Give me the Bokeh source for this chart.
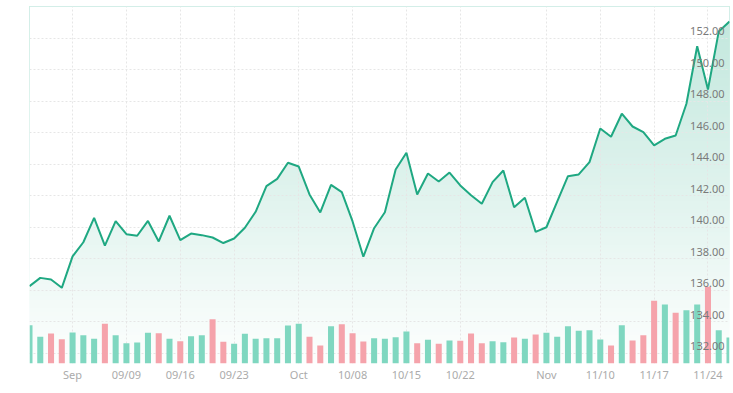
import numpy as np
from bokeh.plotting import figure
from bokeh.models import Range1d, FixedTicker
from bokeh.core.properties import value
from bokeh.embed import file_html
from bokeh.resources import INLINE

# ---- data ----
close = [136.26, 136.79, 136.69, 136.16, 138.15, 139.05, 140.60, 138.84, 140.39, 139.56,
         139.46, 140.40, 139.10, 140.73, 139.18, 139.60, 139.50, 139.35, 139.00, 139.29,
         139.97, 140.98, 142.61, 143.07, 144.09, 143.85, 142.08, 140.94, 142.69, 142.23,
         140.37, 138.13, 139.94, 140.95, 143.66, 144.72, 142.08, 143.41, 142.90, 143.47,
         142.65, 142.03, 141.49, 142.86, 143.60, 141.27, 141.87, 139.71, 140.00, 141.63,
         143.24, 143.35, 144.13, 146.26, 145.74, 147.20, 146.39, 146.03, 145.19, 145.61,
         145.82, 147.83, 151.48, 148.74, 152.41, 153.05]
volume = [47.9, 33.4, 37.5, 30.4, 38.8, 35.4, 30.9, 49.6, 35.4, 25.4,
          26.3, 38.4, 37.9, 30.9, 27.9, 34.1, 35.4, 55.4, 27.1, 24.6,
          37.1, 30.9, 31.6, 31.6, 47.5, 49.6, 33.4, 22.5, 46.6, 49.1,
          37.9, 27.5, 31.6, 30.9, 32.9, 40.0, 25.4, 29.6, 24.6, 28.8,
          28.4, 37.5, 25.4, 27.9, 26.6, 32.5, 30.9, 36.3, 38.4, 33.4,
          46.6, 40.9, 41.6, 30.0, 22.5, 47.9, 28.8, 35.4, 78.4, 73.8,
          63.4, 66.6, 73.8, 95.9, 41.6, 32.5]
up = [1, 1, 0, 0, 1, 1, 1, 0, 1, 1,
      1, 1, 0, 1, 0, 1, 1, 0, 0, 1,
      1, 1, 1, 1, 1, 1, 0, 0, 1, 0,
      0, 0, 1, 1, 1, 1, 0, 1, 0, 1,
      0, 0, 0, 1, 1, 0, 1, 0, 1, 1,
      1, 1, 1, 1, 0, 1, 0, 0, 0, 1,
      0, 1, 1, 0, 1, 1]
tick_index = [4, 9, 14, 19, 25, 30, 35, 40, 48, 53, 58, 63]
tick_labels = ["Sep", "09/09", "09/16", "09/23", "Oct", "10/08", "10/15",
               "10/22", "Nov", "11/10", "11/17", "11/24"]
price_grid = [132, 134, 136, 138, 140, 142, 144, 146, 148, 150, 152, 154]
price_labels = [132, 134, 136, 138, 140, 142, 144, 146, 148, 150, 152]
price_lo, price_hi = 131.36, 154.0
vol_hi = 446.0

LINE = "#1fa882"
UPC = "#7fd7c0"
DNC = "#f5a3ab"

n = len(close)
x = np.arange(n)

p = figure(width=733, height=393, output_backend="svg", toolbar_location=None,
           x_range=Range1d(0, n - 1), y_range=Range1d(price_lo, price_hi),
           y_axis_location=None,
           min_border_left=29, min_border_right=4, min_border_top=6, min_border_bottom=30)
p.outline_line_color = None
p.background_fill_color = "white"
p.border_fill_color = "white"
p.extra_y_ranges = {"vol": Range1d(0, vol_hi)}

# gradient area under the line: stacked bands, then a white mask above the line
nb = 90
levels = np.linspace(price_lo, price_hi, nb + 1)[:-1]
top_area = max(close)
t = np.clip((levels - price_lo) / (top_area - price_lo), 0, 1)
alpha = 0.01 + 0.26 * t
base = np.array([31, 168, 130])
cols = []
for a in alpha:
    c = 255 - a * (255 - base)
    cols.append("#%02x%02x%02x" % tuple(int(round(v)) for v in c))
p.quad(left=0, right=n - 1, bottom=levels, top=price_hi, fill_color=cols,
       line_color=None, level="image")
p.varea(x=x, y1=close, y2=price_hi, fill_color="white", level="image")

# grids
p.xgrid.ticker = FixedTicker(ticks=tick_index)
p.ygrid.ticker = FixedTicker(ticks=price_grid)
for g in (p.xgrid, p.ygrid):
    g.grid_line_color = "#e6e6e6"
    g.grid_line_dash = "2 2"
    g.grid_line_width = 1

# volume bars
bar_cols = [UPC if u else DNC for u in up]
p.vbar(x=x, top=volume, bottom=0, width=0.56, fill_color=bar_cols,
       line_color=None, y_range_name="vol")

# price line
p.line(x, close, line_color=LINE, line_width=2)

# price labels inside plot at right
p.text(x=[n - 1] * len(price_labels), y=price_labels,
       text=["%.2f" % v for v in price_labels],
       x_offset=-5, y_offset=-7, text_align="right", text_baseline="alphabetic",
       text_font=value("Noto Sans"), text_font_size="11px", text_color="#7a7a7a")

# x axis
ax = p.xaxis[0]
ax.ticker = FixedTicker(ticks=tick_index)
ax.major_label_overrides = {i: l for i, l in zip(tick_index, tick_labels)}
ax.axis_line_color = None
ax.major_tick_line_color = None
ax.minor_tick_line_color = None
ax.major_tick_in = 0
ax.major_tick_out = 0
ax.minor_tick_in = 0
ax.minor_tick_out = 0
ax.major_label_text_color = "#ababab"
ax.major_label_text_font = "Noto Sans"
ax.major_label_text_font_size = "11px"
ax.major_label_standoff = 3

open("out.html", "w").write(file_html(p, INLINE))
